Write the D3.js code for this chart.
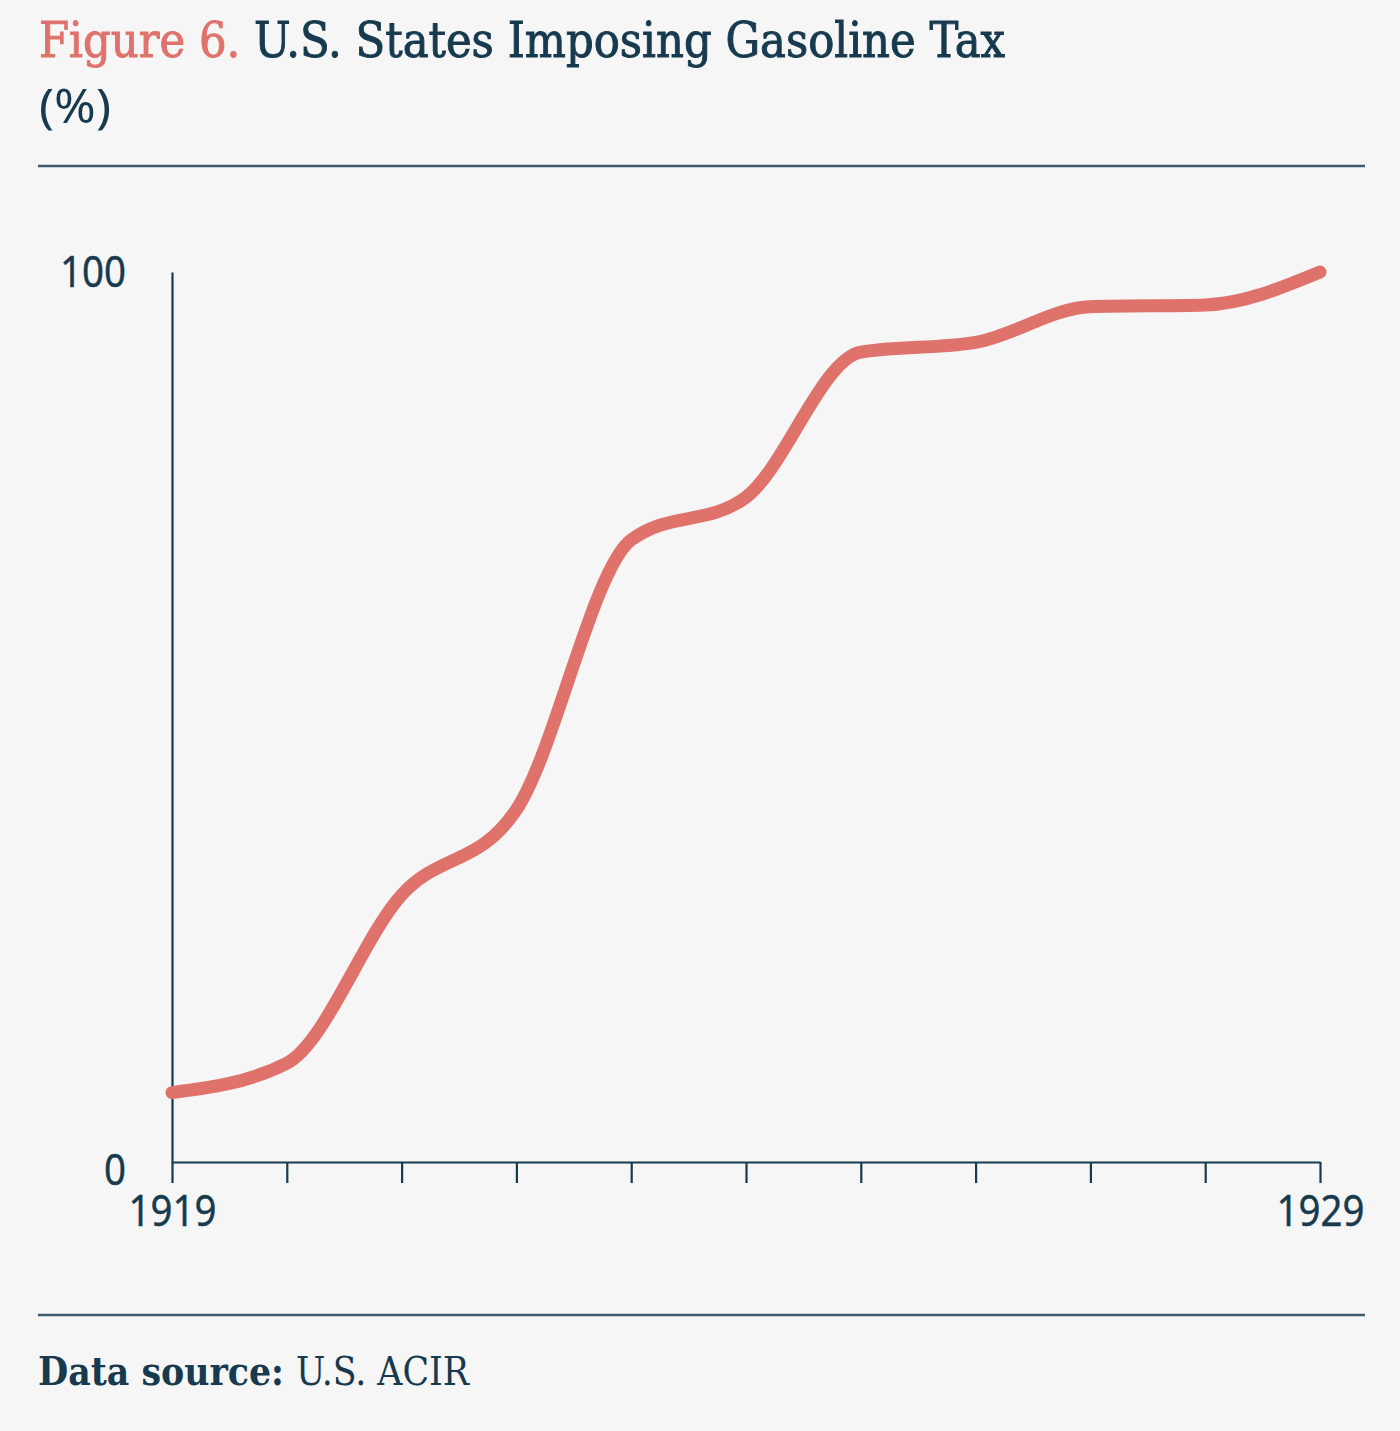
<!DOCTYPE html>
<html>
<head>
<meta charset="utf-8">
<script src="https://cdn.jsdelivr.net/npm/d3@7"></script>
<style>
  html, body { margin: 0; padding: 0; background: #f6f6f6; }
  svg { display: block; }
</style>
</head>
<body>
<script>
(() => {
    // share of U.S. states imposing a gasoline tax, per year
    var years = [1919, 1920, 1921, 1922, 1923, 1924, 1925, 1926, 1927, 1928, 1929];
    var shares = [7.8, 11.1, 30.0, 39.6, 69.9, 74.7, 91.0, 92.1, 96.1, 96.3, 100];
    var yTicks = [0, 100];
    var xLabels = ["1919", "1929"];

    var w = 1400,
        h = 1431;

    var navy = "#173a4e",
        salmon = "#e0726c",
        serif = "'DejaVu Serif Condensed', 'DejaVu Serif', serif",
        sans = "'Noto Sans', sans-serif";

    var margin = {
        top: 272,
        bottom: 269,
        left: 172,
        right: 80
    };

    var svg = d3.select("body").append("svg")
        .attr("width", w).attr("height", h);

    svg.append("rect").attr("width", w).attr("height", h).attr("fill", "#f6f6f6");

    // title
    var title = svg.append("text")
        .attr("x", 39).attr("y", 57)
        .attr("font-family", serif).attr("font-size", 48)
        .attr("font-stretch", "condensed")
        .attr("stroke-width", 0.9)
        .attr("textLength", 966).attr("lengthAdjust", "spacingAndGlyphs");
    title.append("tspan").attr("fill", salmon).attr("stroke", salmon).text("Figure 6. ");
    title.append("tspan").attr("fill", navy).attr("stroke", navy).text("U.S. States Imposing Gasoline Tax");

    svg.append("text")
        .attr("x", 39).attr("y", 123)
        .attr("font-family", sans).attr("font-size", 48)
        .attr("fill", navy)
        .attr("textLength", 72).attr("lengthAdjust", "spacingAndGlyphs")
        .text("(%)");

    // rules
    [166, 1315].forEach((ry) => {
        svg.append("line")
            .attr("x1", 38).attr("x2", 1365)
            .attr("y1", ry).attr("y2", ry)
            .attr("stroke", "#3d5b6c").attr("stroke-width", 2.5);
    });

    // source
    var src = svg.append("text")
        .attr("x", 38).attr("y", 1385)
        .attr("font-family", serif).attr("font-size", 40)
        .attr("font-stretch", "condensed")
        .attr("fill", navy)
        .attr("textLength", 431).attr("lengthAdjust", "spacingAndGlyphs");
    src.append("tspan").attr("font-weight", "bold").text("Data source: ");
    src.append("tspan").text("U.S. ACIR");

    var x = d3.scaleLinear().domain([years[0], years[years.length - 1]])
        .range([margin.left, w - margin.right]);
    var y = d3.scaleLinear().domain([0, 100])
        .range([h - margin.bottom, margin.top]);

    var xAxis = svg.append("g")
        .attr("transform", "translate(0," + y(0) + ")")
        .call(d3.axisBottom(x).tickValues(years).tickSize(21).tickSizeOuter(0)
            .tickPadding(12)
            .tickFormat((d) => { return xLabels.indexOf(String(d)) >= 0 ? String(d) : ""; }));

    var yAxis = svg.append("g")
        .attr("transform", "translate(" + x(years[0]) + ",0)")
        .call(d3.axisLeft(y).tickValues(yTicks).tickSize(0).tickSizeOuter(0)
            .tickPadding(46));

    [xAxis, yAxis].forEach((g) => {
        g.selectAll(".domain, .tick line").attr("stroke", navy).attr("stroke-width", 2.2);
        g.selectAll("text")
            .attr("font-family", sans).attr("font-size", 44)
            .attr("fill", navy)
            .attr("stroke", navy).attr("stroke-width", 0.4)
            .each(function () {
                var t = d3.select(this).text();
                if (t) d3.select(this).attr("textLength", t.length * 22)
                    .attr("lengthAdjust", "spacingAndGlyphs");
            });
    });
    yAxis.selectAll("text").attr("dy", (d) => { return d === 0 ? "0.52em" : "0.32em"; });

    var line = d3.line()
        .x((d, i) => { return x(years[i]) })
        .y((d) => { return y(d) })
        .curve(d3.curveMonotoneX);

    svg.append("path").datum(shares)
        .attr("d", line)
        .attr("fill", "none")
        .attr("stroke", salmon)
        .attr("stroke-width", 13)
        .attr("stroke-linecap", "round")
        .attr("stroke-linejoin", "round");
})()
</script>
</body>
</html>
